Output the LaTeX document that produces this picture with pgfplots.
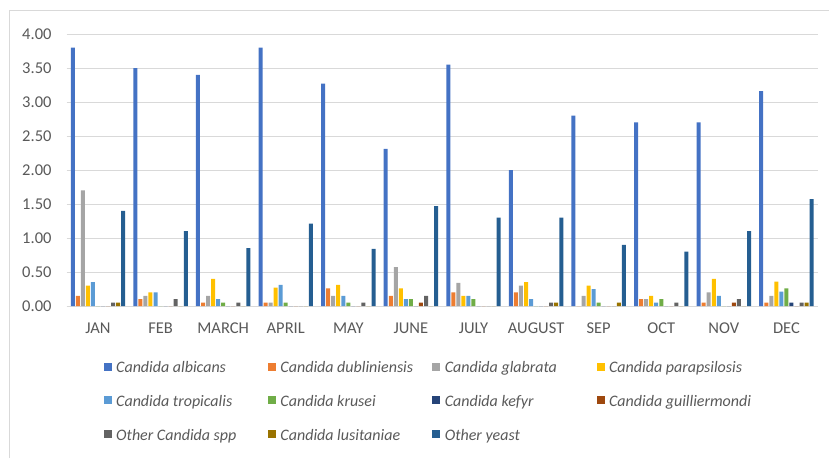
\documentclass[border=0pt]{standalone}
\usepackage{pgfplots}
\usepackage{pgfplotstable}
\pgfplotsset{compat=1.18}
\usepackage{fontspec}
\setmainfont{Carlito}
\definecolor{calb}{HTML}{4472C4}
\definecolor{cdub}{HTML}{ED7D31}
\definecolor{cgla}{HTML}{A5A5A5}
\definecolor{cpar}{HTML}{FFC000}
\definecolor{ctro}{HTML}{5B9BD5}
\definecolor{ckru}{HTML}{70AD47}
\definecolor{ckef}{HTML}{264478}
\definecolor{cgui}{HTML}{9E480E}
\definecolor{coth}{HTML}{636363}
\definecolor{clus}{HTML}{997300}
\definecolor{coye}{HTML}{255E91}
\definecolor{ctxt}{HTML}{595959}
\definecolor{cgrid}{HTML}{D9D9D9}
\pgfplotstableread{
x alb dub gla par tro kru kef gui oth lus oye
0 3.80 0.15 1.70 0.30 0.35 0 0 0 0.05 0.05 1.40
1 3.50 0.10 0.15 0.20 0.20 0 0 0 0.10 0 1.10
2 3.40 0.05 0.15 0.40 0.10 0.05 0 0 0.05 0 0.85
3 3.80 0.05 0.05 0.27 0.31 0.05 0 0 0 0 1.21
4 3.27 0.26 0.15 0.31 0.15 0.05 0 0 0.05 0 0.84
5 2.31 0.15 0.57 0.26 0.10 0.10 0 0.05 0.15 0 1.47
6 3.55 0.20 0.34 0.15 0.15 0.10 0 0 0 0 1.30
7 2.00 0.20 0.30 0.35 0.10 0 0 0 0.05 0.05 1.30
8 2.80 0 0.15 0.30 0.25 0.05 0 0 0 0.05 0.90
9 2.70 0.10 0.10 0.15 0.05 0.10 0 0 0.05 0 0.80
10 2.70 0.05 0.20 0.40 0.15 0 0 0.05 0.10 0 1.10
11 3.16 0.05 0.15 0.36 0.21 0.26 0.05 0 0.05 0.05 1.57
}\datatable
\newcommand{\legbox}[1]{\makebox[151.8pt][l]{\strut\itshape #1}}
\begin{document}
\begin{tikzpicture}
\useasboundingbox (0,0) rectangle (829pt,458pt);
\draw[cgrid, line width=0.8pt] (9pt,0pt) -- (9pt,448pt) -- (829pt,448pt);
\begin{axis}[
  at={(66.7pt,152pt)}, anchor=south west,
  width=751pt, height=272pt, scale only axis,
  xmin=-0.5, xmax=11.5, ymin=0, ymax=4,
  ybar=1.04pt, bar width=4pt,
  xtick={0,...,11},
  xticklabels={JAN,FEB,MARCH,APRIL,MAY,JUNE,JULY,AUGUST,SEP,OCT,NOV,DEC},
  ytick={0,0.5,...,4},
  /pgf/number format/fixed, /pgf/number format/fixed zerofill,
  /pgf/number format/precision=2, /pgf/number format/assume math mode=true,
  ymajorgrids, grid style={cgrid, line width=1pt},
  axis x line*=bottom, axis y line*=left,
  y axis line style={draw=none},
  x axis line style={cgrid, line width=1pt, -},
  major tick length=0pt,
  tick label style={font=\fontsize{16.5pt}{19pt}\selectfont, text=ctxt},
  yticklabel style={anchor=east, inner sep=0pt, xshift=-15pt},
  xticklabel style={anchor=north, inner sep=0pt, yshift=-16.6pt},
  legend columns=4,
  legend cell align=left,
  legend image code/.code={\fill[#1] (0pt,-4pt) rectangle (8pt,4pt);},
  legend style={at={(0.049,-0.195)}, anchor=north west, draw=none, fill=none,
    inner sep=0pt, font=\fontsize{16pt}{19pt}\selectfont, text=ctxt,
    nodes={inner sep=0pt},
    row sep=19pt,
    /tikz/every odd column/.style={column sep=4.5pt}},
]
\addplot[fill=calb, draw=none] table[x=x,y=alb]{\datatable};
\addplot[fill=cdub, draw=none] table[x=x,y=dub]{\datatable};
\addplot[fill=cgla, draw=none] table[x=x,y=gla]{\datatable};
\addplot[fill=cpar, draw=none] table[x=x,y=par]{\datatable};
\addplot[fill=ctro, draw=none] table[x=x,y=tro]{\datatable};
\addplot[fill=ckru, draw=none] table[x=x,y=kru]{\datatable};
\addplot[fill=ckef, draw=none] table[x=x,y=kef]{\datatable};
\addplot[fill=cgui, draw=none] table[x=x,y=gui]{\datatable};
\addplot[fill=coth, draw=none] table[x=x,y=oth]{\datatable};
\addplot[fill=clus, draw=none] table[x=x,y=lus]{\datatable};
\addplot[fill=coye, draw=none] table[x=x,y=oye]{\datatable};
\legend{\legbox{Candida albicans},\legbox{Candida dubliniensis},\legbox{Candida glabrata},\legbox{Candida parapsilosis},
\legbox{Candida tropicalis},\legbox{Candida krusei},\legbox{Candida kefyr},\legbox{Candida guilliermondi},
\legbox{Other Candida spp},\legbox{Candida lusitaniae},\legbox{Other yeast}}
\end{axis}
\end{tikzpicture}
\end{document}
